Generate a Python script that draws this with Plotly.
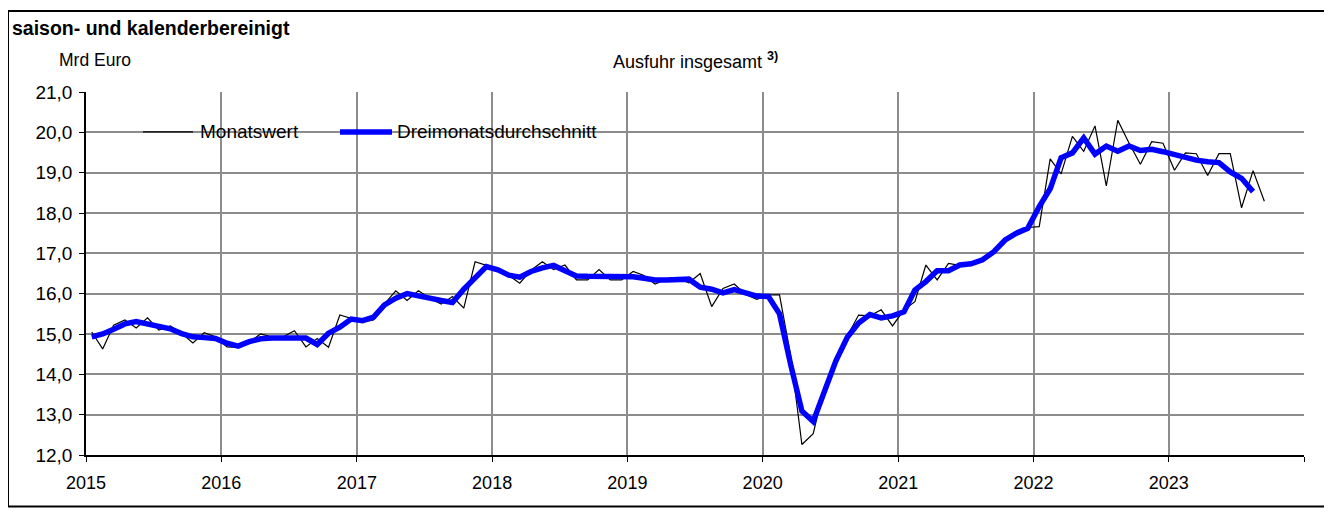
import plotly.graph_objects as go
import pandas as pd

# Ausfuhr insgesamt, saison- und kalenderbereinigt, Mrd Euro
# Monatswerte Jan 2015 - Sep 2023
monatswert = [
    15.05, 14.63, 15.22, 15.35, 15.15, 15.40, 15.10, 15.20, 15.02, 14.78, 15.03, 14.93,  # 2015
    14.68, 14.67, 14.80, 15.00, 14.93, 14.93, 15.08, 14.68, 14.89, 14.67, 15.47, 15.39,  # 2016
    15.30, 15.35, 15.75, 16.07, 15.83, 16.07, 15.89, 15.74, 15.93, 15.64, 16.79, 16.70,  # 2017
    16.60, 16.45, 16.26, 16.58, 16.79, 16.60, 16.71, 16.34, 16.34, 16.60, 16.34, 16.34,  # 2018
    16.55, 16.45, 16.24, 16.35, 16.38, 16.27, 16.50, 15.68, 16.13, 16.24, 15.98, 15.86,  # 2019
    15.97, 15.97, 14.48, 12.26, 12.53, 13.70, 14.35, 14.95, 15.47, 15.45, 15.60, 15.20,  # 2020
    15.60, 15.80, 16.71, 16.34, 16.75, 16.70, 16.75, 16.80, 17.05, 17.35, 17.55, 17.64,  # 2021
    17.66, 19.34, 18.97, 19.90, 19.53, 20.16, 18.67, 20.30, 19.73, 19.21, 19.77, 19.73,  # 2022
    19.06, 19.49, 19.47, 18.93, 19.47, 19.47, 18.13, 19.05, 18.29,                       # 2023
]

# Dreimonatsdurchschnitt Jan 2015 - Aug 2023
dreimonat = [
    14.93, 15.00, 15.12, 15.25, 15.31, 15.25, 15.22, 15.13, 15.01, 14.93, 14.91, 14.89,
    14.77, 14.70, 14.81, 14.88, 14.90, 14.90, 14.88, 14.90, 14.74, 15.02, 15.17, 15.37,
    15.33, 15.42, 15.72, 15.89, 16.00, 15.93, 15.89, 15.83, 15.78, 16.11, 16.38, 16.67,
    16.59, 16.46, 16.41, 16.55, 16.64, 16.70, 16.57, 16.44, 16.43, 16.43, 16.43, 16.41,
    16.42, 16.38, 16.34, 16.34, 16.34, 16.36, 16.16, 16.11, 16.02, 16.10, 16.02, 15.94,
    15.93, 15.50, 14.25, 13.09, 12.83, 13.55, 14.33, 14.92, 15.27, 15.48, 15.40, 15.45,
    15.55, 16.09, 16.30, 16.57, 16.57, 16.71, 16.74, 16.84, 17.04, 17.33, 17.50, 17.62,
    18.16, 18.60, 19.37, 19.49, 19.86, 19.46, 19.66, 19.53, 19.66, 19.55, 19.58, 19.52,
    19.44, 19.36, 19.31, 19.27, 19.25, 19.02, 18.86, 18.53,
]

monate = pd.date_range("2015-01-01", periods=len(monatswert), freq="MS").strftime("%Y-%m").tolist()
jahre = [str(j) for j in range(2015, 2024)]

# Seitenmasse in Pixeln (die Seite hat 8 px Rand)
OFF = 8
W, H = 1324, 504
L, R, T, B = 78, 28, 84, 56.5
PW, PH = W - L - R, H - T - B

def px_x(p):
    return (p - OFF - L) / PW

def px_y(p):
    return (H - B - (p - OFF)) / PH

FONT = "Liberation Sans, Arial, sans-serif"
GRID = "#8c8c8c"

fig = go.Figure()
fig.add_trace(go.Scatter(
    x=monate, y=monatswert, name="Monatswert", mode="lines",
    line=dict(color="black", width=1.2),
    xperiod="M1", xperiodalignment="middle", showlegend=False,
))
fig.add_trace(go.Scatter(
    x=monate[:len(dreimonat)], y=dreimonat, name="Dreimonatsdurchschnitt", mode="lines",
    line=dict(color="#0000ff", width=5.5),
    xperiod="M1", xperiodalignment="middle", showlegend=False,
))

# Legende von Hand: weisser Kasten, Linienmuster, Texte
legende = [
    dict(name="Monatswert", color="black", width=1.3, x0=143, x1=193, tx=198),
    dict(name="Dreimonatsdurchschnitt", color="#0000ff", width=5.5, x0=340, x1=392, tx=395),
]

shapes = [
    dict(type="rect", xref="paper", yref="paper", layer="between",
         x0=px_x(97), x1=px_x(632), y0=px_y(152), y1=px_y(109),
         fillcolor="white", line=dict(width=0)),
    dict(type="rect", xref="paper", yref="paper", layer="above",
         x0=px_x(8), x1=px_x(1325), y0=px_y(507), y1=px_y(11),
         line=dict(color="black", width=2)),
]
annotations = [
    dict(text="<b>saison- und kalenderbereinigt</b>", x=px_x(10), y=px_y(28),
         xref="paper", yref="paper", xanchor="left", yanchor="middle",
         showarrow=False, font=dict(size=19.5)),
    dict(text="Mrd Euro", x=px_x(57), y=px_y(60),
         xref="paper", yref="paper", xanchor="left", yanchor="middle",
         showarrow=False, font=dict(size=17.5)),
    dict(text="Ausfuhr insgesamt <sup><b>3)</b></sup>", x=px_x(611), y=px_y(60),
         xref="paper", yref="paper", xanchor="left", yanchor="middle",
         showarrow=False, font=dict(size=18)),
]
for e in legende:
    shapes.append(dict(type="line", xref="paper", yref="paper", layer="above",
                       x0=px_x(e["x0"]), x1=px_x(e["x1"]), y0=px_y(132), y1=px_y(132),
                       line=dict(color=e["color"], width=e["width"])))
    annotations.append(dict(text=e["name"], x=px_x(e["tx"]), y=px_y(132),
                            xref="paper", yref="paper", xanchor="left", yanchor="middle",
                            showarrow=False, font=dict(size=19)))

fig.update_layout(
    width=W, height=H,
    margin=dict(l=L, r=R, t=T, b=B),
    paper_bgcolor="white", plot_bgcolor="white",
    separators=",.",
    font=dict(family=FONT, size=18, color="black"),
    showlegend=False,
    xaxis=dict(
        type="date", range=["2015-01-01", "2024-01-01"],
        tickvals=[j + "-01-01" for j in jahre], ticktext=jahre,
        showgrid=True, gridcolor=GRID, gridwidth=1.8,
        showline=True, linecolor="black", linewidth=1.5,
        ticks="outside", ticklen=5, tickcolor="black", ticklabelstandoff=6,
        tickfont=dict(size=18),
        minor=dict(dtick="M12", tick0="2015-01-01", showgrid=True, gridcolor=GRID, gridwidth=1.8,
                   ticks="outside", ticklen=5, tickcolor="black"),
        zeroline=False, fixedrange=True,
    ),
    yaxis=dict(
        range=[12, 21], dtick=1, tick0=12, tickformat=".1f",
        showgrid=True, gridcolor=GRID, gridwidth=1.8,
        showline=True, linecolor="black", linewidth=1.5,
        ticks="outside", ticklen=5, tickcolor="black", ticklabelstandoff=3,
        tickfont=dict(size=19),
        zeroline=False, fixedrange=True,
    ),
    shapes=shapes,
    annotations=annotations,
)

fig.write_html("out.html")
